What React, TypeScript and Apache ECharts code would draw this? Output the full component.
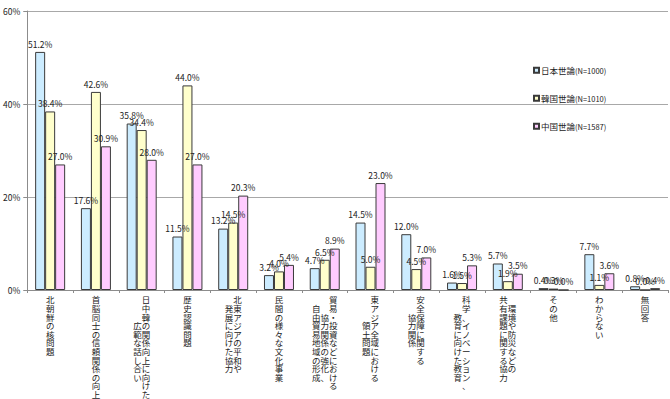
import React, { useEffect, useRef } from "react";
import * as echarts from "echarts";

const categories = [
  "北朝鮮の核問題",
  "首脳同士の信頼関係の向上",
  "日中韓の関係向上に向けた\n広範な話し合い",
  "歴史認識問題",
  "北東アジアの平和や\n発展に向けた協力",
  "民間の様々な文化事業",
  "貿易・投資などにおける\n協力関係の強化、\n自由貿易地域の形成",
  "東アジア全域における\n領土問題",
  "安全保障に関する\n協力関係",
  "科学、イノベーション、\n教育に向けた教育",
  "環境や防災などの\n共有課題に関する協力",
  "その他",
  "わからない",
  "無回答",
];

const seriesNames = ["日本世論(N=1000)", "韓国世論(N=1010)", "中国世論(N=1587)"];
const japan = [51.2, 17.6, 35.8, 11.5, 13.2, 3.2, 4.7, 14.5, 12.0, 1.6, 5.7, 0.4, 7.7, 0.8];
const korea = [38.4, 42.6, 34.4, 44.0, 14.5, 4.0, 6.5, 5.0, 4.5, 1.5, 1.9, 0.3, 1.1, 0.0];
const china = [27.0, 30.9, 28.0, 27.0, 20.3, 5.4, 8.9, 23.0, 7.0, 5.3, 3.5, 0.0, 3.6, 0.4];
const yTicks = [0, 20, 40, 60];

const colors = ["#CCECFF", "#FFFFCC", "#FFCCFF"];
const FONT = "'Noto Sans CJK JP', 'Noto Sans', sans-serif";
const SP = "\u3000";

// Vertical (tategaki) label: columns read right-to-left, each column centred vertically
function verticalLabel(value: string): string {
  const cols = value.split("\n").map((c) => Array.from(c));
  const max = Math.max(...cols.map((c) => c.length));
  const pads = cols.map((c) => Math.round((max - c.length) / 2));
  const leftToRight = cols.map((c, i) => ({ c, p: pads[i] })).reverse();
  const lines: string[] = [];
  for (let r = 0; r < max; r++) {
    let line = "";
    for (const { c, p } of leftToRight) {
      const ch = c[r - p];
      line += ch !== undefined ? ch : SP;
    }
    lines.push(`{v|${line}}`);
  }
  return lines.join("\n");
}

export default function App() {
  const ref = useRef<HTMLDivElement>(null);
  useEffect(() => {
    if (!ref.current) return;
    const chart = echarts.init(ref.current, null, { renderer: "svg" });
    const data = [japan, korea, china];
    chart.setOption({
      animation: false,
      backgroundColor: "#ffffff",
      textStyle: { fontFamily: FONT },
      grid: { left: 25, right: 2, top: 11, bottom: 109, containLabel: false },
      legend: {
        orient: "vertical",
        left: 528,
        top: 61,
        itemWidth: 5,
        itemHeight: 5,
        itemGap: 19.5,
        icon: "rect",
        data: seriesNames,
        formatter: (name: string) => {
          const i = name.indexOf("(");
          return `{a|${name.slice(0, i)}}{b|${name.slice(i)}}`;
        },
        textStyle: {
          padding: [0, 0, 0, -3],
          rich: {
            a: { fontSize: 8.5, color: "#222", fontFamily: FONT },
            b: { fontSize: 7.5, color: "#222", fontFamily: FONT },
          },
        },
      },
      xAxis: {
        type: "category",
        data: categories,
        axisLine: { show: true, lineStyle: { color: "#8c8c8c", width: 1 } },
        axisTick: { show: true, length: 3, lineStyle: { color: "#8c8c8c" } },
        axisLabel: {
          interval: 0,
          margin: 5,
          color: "#222",
          fontFamily: FONT,
          formatter: (v: string) => verticalLabel(v),
          rich: {
            v: { fontSize: 8.5, lineHeight: 8.6, color: "#222", fontFamily: FONT },
          },
        },
      },
      yAxis: {
        type: "value",
        min: yTicks[0],
        max: yTicks[yTicks.length - 1],
        interval: 20,
        axisLine: { show: true, lineStyle: { color: "#8c8c8c", width: 1 } },
        axisTick: { show: true, length: 4, lineStyle: { color: "#8c8c8c" } },
        axisLabel: {
          margin: 7,
          fontSize: 8.5,
          color: "#222",
          fontFamily: FONT,
          formatter: "{value}%",
        },
        splitLine: { show: true, lineStyle: { color: "#a8a8a8", width: 1 } },
      },
      series: seriesNames.map((name, i) => ({
        name,
        type: "bar",
        data: data[i],
        barWidth: 10,
        barGap: "0%",
        itemStyle: { color: colors[i], borderColor: "#3a3a3a", borderWidth: 1 },
        label: {
          show: true,
          position: "top",
          distance: 4,
          fontSize: 8.5,
          color: "#222",
          fontFamily: FONT,
          formatter: (p: any) => `${Number(p.value).toFixed(1)}%`,
        },
      })),
    });
    return () => chart.dispose();
  }, []);
  return <div ref={ref} style={{ width: 670, height: 399, position: "absolute", left: 0, top: 0 }} />;
}
